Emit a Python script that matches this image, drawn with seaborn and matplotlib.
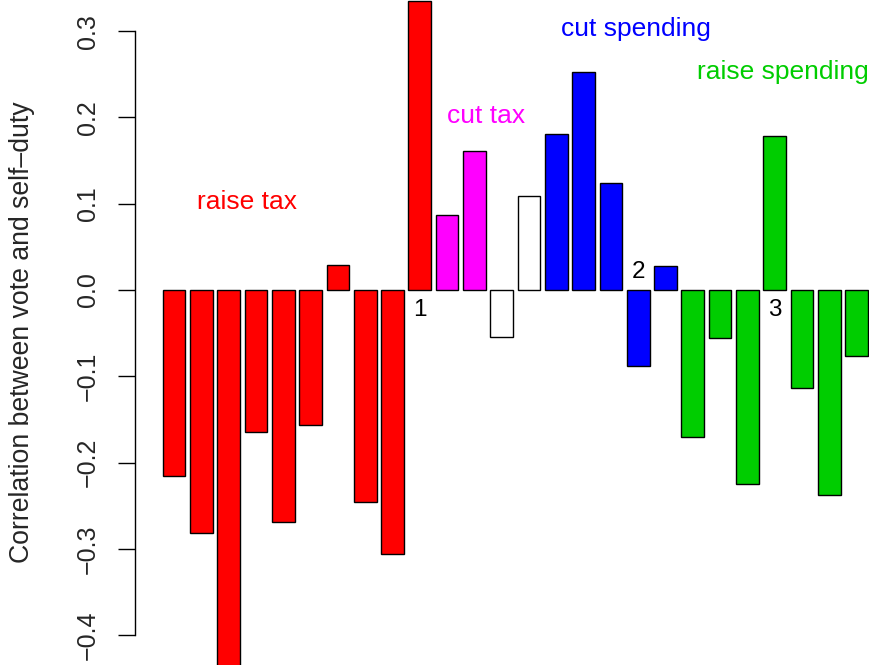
import seaborn as sb
from matplotlib import pyplot as plt

# correlation between vote and self-duty, one bar per item
values = [-0.2155, -0.281, -0.44, -0.164, -0.269, -0.157, 0.029, -0.246, -0.306, 0.335,
          0.087, 0.161, -0.055, 0.1085, 0.181, 0.253, 0.124, -0.0877, 0.028,
          -0.170, -0.0556, -0.225, 0.178, -0.1135, -0.2375, -0.0765]
groups = ["raise tax"] * 10 + ["cut tax"] * 2 + ["other"] * 2 + ["cut spending"] * 5 + ["raise spending"] * 7
group_colors = {"raise tax": "#FF0000", "cut tax": "#FF00FF", "other": "#FFFFFF",
                "cut spending": "#0000FF", "raise spending": "#00CD00"}
# group captions: (text, x index, y)
captions = [("raise tax", 2.67, 0.102), ("cut tax", 11.42, 0.2016),
            ("cut spending", 16.92, 0.302), ("raise spending", 22.3, 0.2526)]
# numbered markers: (text, bar index, y)
markers = [("1", 9, -0.023), ("2", 17, 0.021), ("3", 22, -0.023)]
yticks = [-0.4, -0.3, -0.2, -0.1, 0.0, 0.1, 0.2, 0.3]

sb.set_style("white")
plt.rcParams['font.family'] = ['Liberation Sans', 'DejaVu Sans']

fig = plt.figure(figsize=(8.7, 6.65), dpi=100)
ax = fig.add_axes([135 / 870, 0, 1 - 135 / 870, 1])

idx = list(range(len(values)))
colors = [group_colors[g] for g in groups]
sb.barplot(x=idx, y=values, hue=idx, palette=colors, legend=False, ax=ax,
           width=1 / 1.2, edgecolor="black", linewidth=1, saturation=1)

ax.set_xlim(-1.432, 25.49)
ax.set_ylim(-0.4345, 0.336)

for txt, x, y in captions:
    ax.text(x, y, txt, color=group_colors[txt], fontsize=19, ha="center", va="center")
for txt, x, y in markers:
    ax.text(x, y, txt, color="black", fontsize=17.5, ha="center", va="center")

ax.set_xticks([])
ax.set_yticks(yticks)
ax.set_yticklabels([f"{t:.1f}".replace("-", "\u2212") for t in yticks],
                   rotation=90, va="center", fontsize=18)
ax.tick_params(axis="y", left=True, length=12.2, width=1, color="black", pad=13)
ax.set_ylabel("")
fig.text(22 / 870, 0.5, "Correlation between vote and self\u2013duty", fontsize=19.2,
         rotation=90, ha="center", va="center")

for side in ["top", "right", "bottom"]:
    ax.spines[side].set_visible(False)
ax.spines["left"].set_bounds(-0.4, 0.3)
ax.spines["left"].set_color("black")
ax.spines["left"].set_linewidth(1)

plt.savefig("out.png", dpi=100)
